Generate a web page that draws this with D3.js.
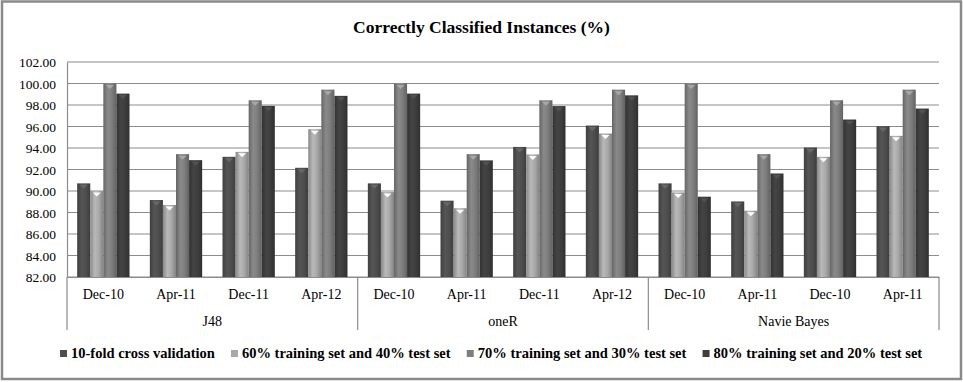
<!DOCTYPE html>
<html lang="en">
<head>
<meta charset="UTF-8">
<script src="https://d3js.org/d3.v7.min.js"></script>
<style>
    body, html { margin: 0; padding: 0; background: #fff; overflow: hidden; }
    svg text { font-family: "Liberation Serif", "DejaVu Serif", serif; fill: #000; }
</style>
</head>
<body>
<div id="chart"></div>
<script>
const categories = ["Dec-10", "Apr-11", "Dec-11", "Apr-12", "Dec-10", "Apr-11", "Dec-11", "Apr-12", "Dec-10", "Apr-11", "Dec-10", "Apr-11"];
const groups = ["J48", "oneR", "Navie Bayes"];
const seriesNames = ["10-fold cross validation", "60% training set and 40% test set", "70% training set and 30% test set", "80% training set and 20% test set"];
const cv10 = [90.71, 89.16, 93.18, 92.16, 90.71, 89.10, 94.10, 96.09, 90.71, 89.03, 94.05, 96.03];
const split60 = [89.99, 88.70, 93.64, 95.75, 89.90, 88.40, 93.40, 95.35, 89.87, 88.17, 93.18, 95.13];
const split70 = [100.00, 93.43, 98.44, 99.43, 100.00, 93.43, 98.44, 99.43, 100.00, 93.43, 98.44, 99.43];
const split80 = [99.06, 92.87, 97.92, 98.85, 99.06, 92.85, 97.90, 98.90, 89.47, 91.63, 96.65, 97.67];
const yTicks = [82, 84, 86, 88, 90, 92, 94, 96, 98, 100, 102];

const seriesValues = [cv10, split60, split70, split80];
const colors = ["#4e4e4e", "#a9a9a9", "#7e7e7e", "#3e3e3e"];
const FONT = '"Liberation Serif", "DejaVu Serif", serif';

const W = 963, H = 382;
const margin = {top: 62, right: 24, bottom: 105, left: 67};
const width = W - margin.left - margin.right;
const height = H - margin.top - margin.bottom;

const svg = d3.select("#chart").append("svg").attr("width", W).attr("height", H);

// gradients for the bevelled bar look
const defs = svg.append("defs");
colors.forEach((c, i) => {
    const base = d3.color(c);
    const gr = defs.append("linearGradient").attr("id", "grad" + i)
        .attr("x1", "0%").attr("x2", "100%").attr("y1", "0%").attr("y2", "0%");
    gr.append("stop").attr("offset", "0%").attr("stop-color", base.darker(0.6));
    gr.append("stop").attr("offset", "35%").attr("stop-color", base.brighter(0.25));
    gr.append("stop").attr("offset", "65%").attr("stop-color", base);
    gr.append("stop").attr("offset", "100%").attr("stop-color", base.darker(0.7));
});

// outer frame
svg.append("rect").attr("x", 2).attr("y", 1.5).attr("width", W - 4).attr("height", H - 4.5)
    .attr("fill", "none").attr("stroke", "#8a8a8a").attr("stroke-width", 2.5);

svg.append("text").attr("x", W / 2).attr("y", 33).attr("text-anchor", "middle")
    .style("font-family", FONT).style("font-size", "17.5px").style("font-weight", "bold")
    .text("Correctly Classified Instances (%)");

const g = svg.append("g").attr("transform", `translate(${margin.left},${margin.top})`);

const y = d3.scaleLinear().domain([82, 102]).range([height, 0]);
const idx = categories.map((d, i) => i);
const x0 = d3.scaleBand().domain(idx).range([0, width]).paddingInner(0.28).paddingOuter(0.14);
const x1 = d3.scaleBand().domain(d3.range(seriesNames.length)).range([0, x0.bandwidth()]);

// gridlines
g.selectAll(".grid").data(yTicks).enter().append("line")
    .attr("x1", 0).attr("x2", width)
    .attr("y1", d => y(d)).attr("y2", d => y(d))
    .attr("stroke", "#8c8c8c").attr("stroke-width", 1.2);

// y axis
const yAxis = g.append("g")
    .call(d3.axisLeft(y).tickValues(yTicks).tickFormat(d => d.toFixed(2)).tickSize(0).tickPadding(11))
    .attr("font-family", null).attr("font-size", null);
yAxis.select(".domain").attr("stroke", "#8c8c8c").attr("stroke-width", 1.2);
yAxis.selectAll("text").attr("dy", "0.35em").style("font-family", FONT).style("font-size", "13.5px");

// bars
const cat = g.selectAll(".cat").data(idx).enter().append("g")
    .attr("transform", d => `translate(${x0(d)},0)`);

cat.selectAll("rect").data(i => seriesValues.map((s, k) => ({k, v: s[i]}))).enter().append("rect")
    .attr("x", d => x1(d.k)).attr("y", d => y(d.v))
    .attr("width", x1.bandwidth()).attr("height", d => height - y(d.v))
    .attr("fill", d => `url(#grad${d.k})`);

// little bevel markers on bar tops
cat.selectAll("path").data(i => seriesValues.map((s, k) => ({k, v: s[i]}))).enter().append("path")
    .attr("d", d => {
        const cx = x1(d.k) + x1.bandwidth() / 2, ty = y(d.v) + 1.5;
        return `M${cx - 4},${ty} L${cx + 4},${ty} L${cx},${ty + 4} Z`;
    })
    .attr("fill", d => d3.color(colors[d.k]).brighter(d.k === 1 ? 1.2 : 0.8));

// category axis
const xAxis = g.append("g").attr("transform", `translate(0,${height})`)
    .call(d3.axisBottom(x0).tickFormat(i => categories[i]).tickSize(0).tickPadding(12))
    .attr("font-family", null).attr("font-size", null);
xAxis.select(".domain").attr("stroke", "#8c8c8c").attr("stroke-width", 1.2);
xAxis.selectAll("text").style("font-family", FONT).style("font-size", "14px");

// group separators and labels
const perGroup = categories.length / groups.length;
const step = x0.step();
const sepX = d3.range(groups.length + 1).map(k => k * perGroup * step);
g.selectAll(".sep").data(sepX).enter().append("line")
    .attr("x1", d => d).attr("x2", d => d)
    .attr("y1", height).attr("y2", height + 53)
    .attr("stroke", "#8c8c8c").attr("stroke-width", 1.2);
g.selectAll(".grp").data(groups).enter().append("text")
    .attr("x", (d, k) => (k + 0.5) * perGroup * step)
    .attr("y", height + 49).attr("text-anchor", "middle")
    .style("font-family", FONT).style("font-size", "14px").text(d => d);

// legend
const legend = svg.append("g").attr("transform", "translate(0,358)");
const items = legend.selectAll(".li").data(seriesNames).enter().append("g");
items.append("rect").attr("y", -8).attr("width", 7).attr("height", 7)
    .attr("fill", (d, k) => colors[k]);
items.append("text").attr("x", 11).attr("y", 0)
    .style("font-family", FONT).style("font-size", "14.5px").style("font-weight", "bold").text(d => d);
const lw = [];
items.each(function() { lw.push(this.getBBox().width); });
const gap = 16;
let lx = 60;
items.attr("transform", (d, k) => {
    const t = `translate(${lx},0)`;
    lx += lw[k] + gap;
    return t;
});
</script>
</body>
</html>
